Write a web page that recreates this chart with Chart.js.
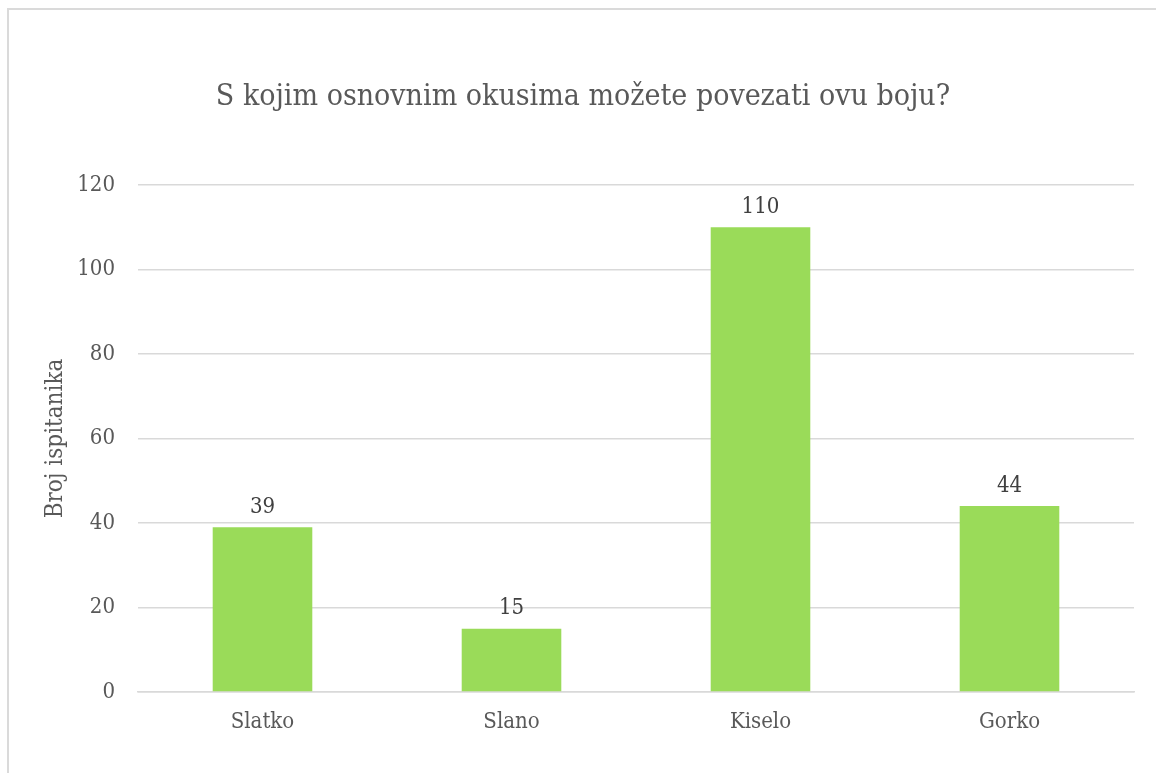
<!DOCTYPE html>
<html>
<head>
<meta charset="utf-8">
<script src="https://cdn.jsdelivr.net/npm/chart.js@4/dist/chart.umd.min.js"></script>
<style>
  html, body { margin: 0; padding: 0; background: #fff; overflow: hidden; }
  #frame { position: absolute; left: 7px; top: 8px; width: 1300px; height: 900px; border: 2px solid #dadada; box-sizing: border-box; }
  #wrap { position: absolute; left: 0; top: 0; width: 1156px; height: 773px; }
</style>
</head>
<body>
<div id="frame"></div>
<div id="wrap"><canvas id="chart" width="1156" height="773"></canvas></div>
<script>
// chart data
const categories = ['Slatko', 'Slano', 'Kiselo', 'Gorko'];
const counts = [39, 15, 110, 44];
const yTicks = [0, 20, 40, 60, 80, 100, 120];

const FONT = "'DejaVu Serif Condensed', 'DejaVu Serif', serif";
const TEXT_COLOR = '#595959';

// value labels above each bar
const barLabels = {
    id: 'barLabels',
    afterDatasetsDraw(chart) {
        const ctx = chart.ctx;
        const meta = chart.getDatasetMeta(0);
        ctx.save();
        ctx.font = `22px ${FONT}`;
        ctx.fillStyle = '#404040';
        ctx.textAlign = 'center';
        ctx.textBaseline = 'middle';
        meta.data.forEach((bar, i) => {
            ctx.fillText(String(counts[i]), bar.x, bar.y - 20);
        });
        ctx.restore();
    }
};

new Chart(document.getElementById('chart'), {
    type: 'bar',
    data: {
        labels: categories,
        datasets: [{
            data: counts,
            backgroundColor: '#9ADB59',
            borderWidth: 0,
            categoryPercentage: 1,
            barPercentage: 0.4
        }]
    },
    options: {
        responsive: false,
        animation: false,
        layout: { padding: { left: 32, right: 22, top: 0, bottom: 0 } },
        plugins: {
            legend: { display: false },
            tooltip: { enabled: false },
            title: {
                display: true,
                text: 'S kojim osnovnim okusima možete povezati ovu boju?',
                color: TEXT_COLOR,
                font: { family: FONT, size: 30, weight: 'normal', lineHeight: 1.2 },
                padding: { top: 79, bottom: 70 }
            }
        },
        scales: {
            x: {
                grid: { display: false, drawTicks: false },
                border: { display: true, color: '#d9d9d9', width: 1.5 },
                ticks: { color: TEXT_COLOR, font: { family: FONT, size: 22 }, padding: 17 },
                afterFit(scale) { scale.height = 81; }
            },
            y: {
                min: 0,
                max: 120,
                afterBuildTicks(scale) { scale.ticks = yTicks.map(v => ({ value: v })); },
                grid: { color: '#d9d9d9', lineWidth: 1.5, drawTicks: false },
                border: { display: false },
                ticks: { color: TEXT_COLOR, font: { family: FONT, size: 22 }, padding: 23 },
                title: {
                    display: true,
                    text: 'Broj ispitanika',
                    color: TEXT_COLOR,
                    font: { family: FONT, size: 24 },
                    padding: { top: 9, bottom: 0 }
                },
                afterFit(scale) { scale.width = 106; }
            }
        }
    },
    plugins: [barLabels]
});
</script>
</body>
</html>
